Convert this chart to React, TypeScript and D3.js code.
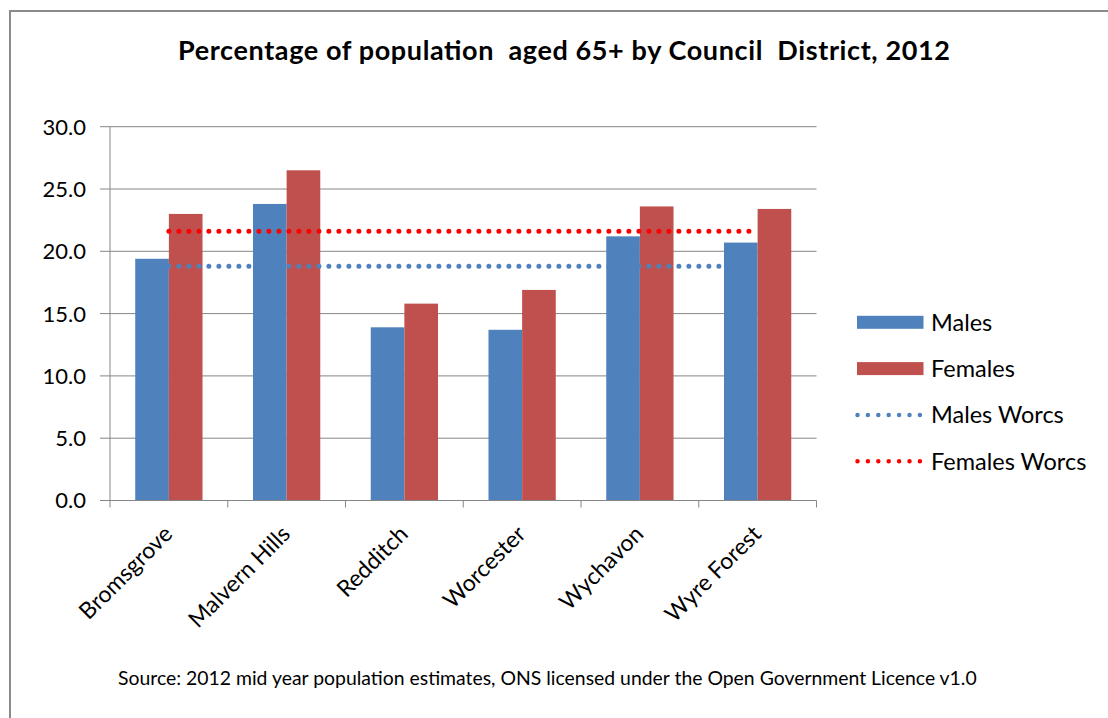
import React from "react";
import * as d3 from "d3";

const categories = ["Bromsgrove", "Malvern Hills", "Redditch", "Worcester", "Wychavon", "Wyre Forest"];
const males = [19.4, 23.8, 13.9, 13.7, 21.2, 20.7];
const females = [23.0, 26.5, 15.8, 16.9, 23.6, 23.4];
const malesWorcs = 18.8;
const femalesWorcs = 21.6;
const yTicks = [0, 5, 10, 15, 20, 25, 30];
const seriesNames = ["Males", "Females"];
const legendItems = [
  { name: "Males", kind: "bar", color: "#4F81BD" },
  { name: "Females", kind: "bar", color: "#C0504D" },
  { name: "Males Worcs", kind: "dot", color: "#4F81BD" },
  { name: "Females Worcs", kind: "dot", color: "#FF0000" },
];
const title = "Percentage of population  aged 65+ by Council  District, 2012";
const source = "Source: 2012 mid year population estimates, ONS licensed under the Open Government Licence v1.0";

const FONT = "Lato, 'Open Sans', sans-serif";

export default function App() {
  const W = 1108, H = 718;
  const left = 110, right = 816.5, top = 126.7, bottom = 500.5;
  const y = d3.scaleLinear().domain([0, 30]).range([bottom, top]);
  const x0 = d3.scaleBand<string>().domain(categories).range([left, right]).paddingInner(0.4286).paddingOuter(0.2143);
  const x1 = d3.scaleBand<string>().domain(seriesNames).range([0, x0.bandwidth()]);
  const step = x0.step();
  const seriesVals: Record<string, number[]> = { Males: males, Females: females };
  const colors: Record<string, string> = { Males: "#4F81BD", Females: "#C0504D" };
  const centerOf = (c: string) => (x0(c) as number) + x0.bandwidth() / 2;
  const lineGen = d3.line<[number, number]>().x(d => d[0]).y(d => d[1]);
  const avgLine = (v: number) => lineGen(categories.map(c => [centerOf(c), y(v)] as [number, number]));
  const boundaries = d3.range(categories.length + 1).map(i => left + i * step);

  return (
    <svg width={W} height={H} style={{ position: "absolute", left: 0, top: 0, background: "#fff" }}>
      <rect x={0} y={0} width={W} height={H} fill="#fff" />
      <rect x={10} y={11} width={W + 20} height={H + 20} fill="none" stroke="#8a8a8a" strokeWidth={2} />
      <text x={564} y={60} textAnchor="middle" fontFamily={FONT} fontWeight="bold" fontSize={27} textLength={772} lengthAdjust="spacing" fill="#000" style={{ whiteSpace: "pre" }}>{title}</text>
      {/* gridlines */}
      {yTicks.filter(t => t > 0).map(t => (
        <line key={t} x1={left} x2={right} y1={y(t)} y2={y(t)} stroke="#868686" strokeWidth={1} />
      ))}
      {/* y axis */}
      <line x1={left} x2={left} y1={top} y2={bottom} stroke="#868686" strokeWidth={1} />
      {yTicks.map(t => (
        <g key={t}>
          <line x1={left - 10} x2={left} y1={y(t)} y2={y(t)} stroke="#868686" strokeWidth={1} />
          <text x={86} y={y(t)} dy="0.36em" textAnchor="end" fontFamily={FONT} fontSize={22} fill="#000">{d3.format(".1f")(t)}</text>
        </g>
      ))}
      {/* bars */}
      {categories.map((c, i) => (
        <g key={c} transform={`translate(${x0(c)},0)`}>
          {seriesNames.map(s => (
            <rect key={s} x={x1(s)} y={y(seriesVals[s][i])} width={x1.bandwidth()} height={y(0) - y(seriesVals[s][i])} fill={colors[s]} />
          ))}
        </g>
      ))}
      {/* x axis */}
      <line x1={left} x2={right} y1={bottom} y2={bottom} stroke="#868686" strokeWidth={1} />
      {boundaries.map((b, i) => (
        <line key={i} x1={b} x2={b} y1={bottom} y2={bottom + 7} stroke="#868686" strokeWidth={1} />
      ))}
      {categories.map(c => (
        <text key={c} transform={`translate(${centerOf(c) + 5},${bottom + 35}) rotate(-45)`} textAnchor="end" fontFamily={FONT} fontSize={23} fill="#000">{c}</text>
      ))}
      {/* average lines */}
      <path d={avgLine(malesWorcs) || ""} fill="none" stroke="#4F81BD" strokeWidth={5} strokeDasharray="0 10" strokeLinecap="round" />
      <path d={avgLine(femalesWorcs) || ""} fill="none" stroke="#FF0000" strokeWidth={5} strokeDasharray="0 10" strokeLinecap="round" />
      {/* legend */}
      {legendItems.map((it, i) => {
        const cy = 322.3 + i * 46.3;
        return (
          <g key={it.name}>
            {it.kind === "bar" ? (
              <rect x={857} y={cy - 6.5} width={66.5} height={13} fill={it.color} />
            ) : (
              <line x1={857.5} x2={920} y1={cy} y2={cy} stroke={it.color} strokeWidth={4.5} strokeDasharray="0 10.4" strokeLinecap="round" />
            )}
            <text x={931} y={cy} dy="0.36em" fontFamily={FONT} fontSize={23.5} fill="#000">{it.name}</text>
          </g>
        );
      })}
      <text x={118} y={685} fontFamily={FONT} fontSize={19.4} fill="#000">{source}</text>
    </svg>
  );
}
